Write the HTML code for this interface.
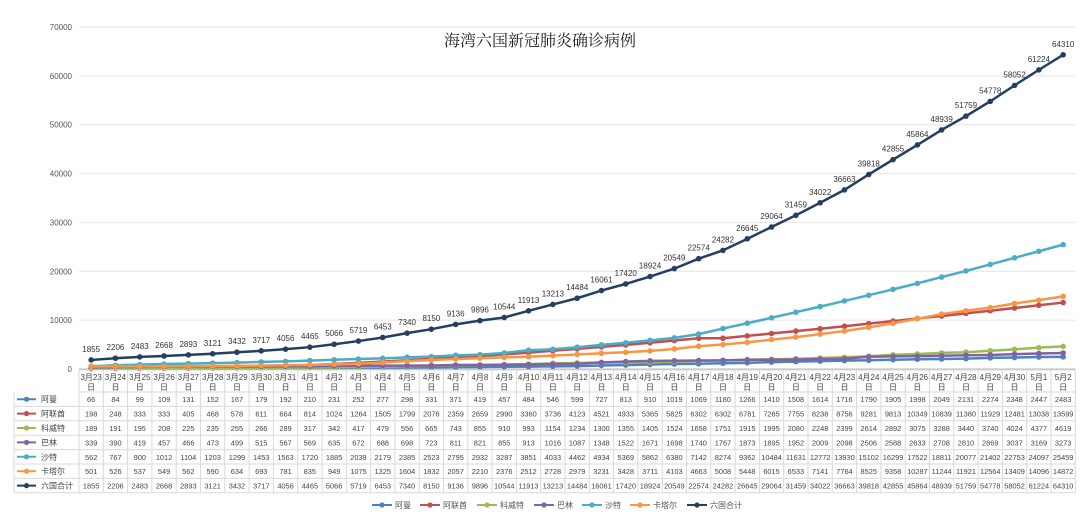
<!DOCTYPE html>
<html><head><meta charset="utf-8"><style>
body{margin:0;background:#fff;}
svg{display:block;font-family:"Liberation Sans","Noto Sans CJK SC",sans-serif;}
</style></head><body>
<svg id="c" width="1080" height="523" viewBox="0 0 1080 523"></svg>
<script>
const dates=["3月23日","3月24日","3月25日","3月26日","3月27日","3月28日","3月29日","3月30日","3月31日","4月1日","4月2日","4月3日","4月4日","4月5日","4月6日","4月7日","4月8日","4月9日","4月10日","4月11日","4月12日","4月13日","4月14日","4月15日","4月16日","4月17日","4月18日","4月19日","4月20日","4月21日","4月22日","4月23日","4月24日","4月25日","4月26日","4月27日","4月28日","4月29日","4月30日","5月1日","5月2日"];
const seriesNames=["阿曼","阿联酋","科威特","巴林","沙特","卡塔尔","六国合计"];
const oman=[66,84,99,109,131,152,167,179,192,210,231,252,277,298,331,371,419,457,484,546,599,727,813,910,1019,1069,1180,1266,1410,1508,1614,1716,1790,1905,1998,2049,2131,2274,2348,2447,2483];
const uae=[198,248,333,333,405,468,578,611,664,814,1024,1264,1505,1799,2076,2359,2659,2990,3360,3736,4123,4521,4933,5365,5825,6302,6302,6781,7265,7755,8238,8756,9281,9813,10349,10839,11380,11929,12481,13038,13599];
const kuwait=[189,191,195,208,225,235,255,266,289,317,342,417,479,556,665,743,855,910,993,1154,1234,1300,1355,1405,1524,1658,1751,1915,1995,2080,2248,2399,2614,2892,3075,3288,3440,3740,4024,4377,4619];
const bahrain=[339,390,419,457,466,473,499,515,567,569,635,672,688,698,723,811,821,855,913,1016,1087,1348,1522,1671,1698,1740,1767,1873,1895,1952,2009,2098,2506,2588,2633,2708,2810,2869,3037,3169,3273];
const saudi=[562,767,900,1012,1104,1203,1299,1453,1563,1720,1885,2039,2179,2385,2523,2795,2932,3287,3851,4033,4462,4934,5369,5862,6380,7142,8274,9362,10484,11631,12772,13930,15102,16299,17522,18811,20077,21402,22753,24097,25459];
const qatar=[501,526,537,549,562,590,634,693,781,835,949,1075,1325,1604,1832,2057,2210,2376,2512,2728,2979,3231,3428,3711,4103,4663,5008,5448,6015,6533,7141,7764,8525,9358,10287,11244,11921,12564,13409,14096,14872];
const total=[1855,2206,2483,2668,2893,3121,3432,3717,4056,4465,5066,5719,6453,7340,8150,9136,9896,10544,11913,13213,14484,16061,17420,18924,20549,22574,24282,26645,29064,31459,34022,36663,39818,42855,45864,48939,51759,54778,58052,61224,64310];
const yTicks=[0,10000,20000,30000,40000,50000,60000,70000];
const colors=["#4f81bd","#c0504d","#9bbb59","#8064a2","#4bacc6","#f79646","#243f60"];
const allSeries=[oman,uae,kuwait,bahrain,saudi,qatar,total];

const svg=document.getElementById('c');const NS="http://www.w3.org/2000/svg";
function mk(t,a,p){const e=document.createElementNS(NS,t);for(const k in a)e.setAttribute(k,a[k]);(p||svg).appendChild(e);return e;}
const x0=79,cw=24.3,y0=369,yMax=70000,yTop=27;
const X=i=>x0+cw*(i+0.5);
const Y=v=>y0-(v/yMax)*(y0-yTop);
let t=mk('text',{x:540,y:46,'text-anchor':'middle','font-size':16,fill:'#222','font-family':'"Noto Serif CJK SC","Noto Sans CJK SC",serif'});t.textContent="海湾六国新冠肺炎确诊病例";

yTicks.forEach(v=>{const l=mk('line',{x1:x0,x2:x0+cw*41,y1:Y(v),y2:Y(v),stroke:v?'#e4e4e4':'#bbb','stroke-width':1});

const tt=mk('text',{x:72,y:Y(v)+3,'text-anchor':'end','font-size':8,fill:'#555'});tt.textContent=v;
});
allSeries.forEach((s,si)=>{const g=mk('g',{});
mk('polyline',{points:s.map((v,i)=>X(i)+','+Y(v)).join(' '),fill:'none',stroke:colors[si],'stroke-width':2.5},g);
s.forEach((v,i)=>{const c=mk('circle',{cx:X(i),cy:Y(v),r:2.8,fill:colors[si]},g);});});
total.forEach((v,i)=>{const tt=mk('text',{x:X(i),y:Y(v)-8,'text-anchor':'middle','font-size':8,fill:'#333'});tt.textContent=v;
});
const tb=mk('g',{});
const hTop=370,hBot=392,rh=14.4,tEnd=x0+cw*41;
const rows=7,bottom=hBot+rh*rows;
for(let i=0;i<=41;i++)mk('line',{x1:x0+cw*i,x2:x0+cw*i,y1:hTop,y2:bottom,stroke:'#d9d9d9'},tb);
mk('line',{x1:x0,x2:tEnd,y1:hTop,y2:hTop,stroke:'#d9d9d9'},tb);
for(let r=0;r<=rows;r++)mk('line',{x1:r?14:x0,x2:tEnd,y1:hBot+rh*r,y2:hBot+rh*r,stroke:'#d9d9d9'},tb);
mk('line',{x1:14,x2:14,y1:hBot,y2:bottom,stroke:'#d9d9d9'},tb);
dates.forEach((d,i)=>{const a=mk('text',{x:X(i),y:380,'text-anchor':'middle','font-size':8,fill:'#444'},tb);a.textContent=d.slice(0,-1);
const b=mk('text',{x:X(i),y:390,'text-anchor':'middle','font-size':8,fill:'#444'},tb);b.textContent="日";});
allSeries.forEach((s,si)=>{const yy=hBot+rh*si+rh/2;
mk('line',{x1:17,x2:36,y1:yy,y2:yy,stroke:colors[si],'stroke-width':2},tb);mk('circle',{cx:26.5,cy:yy,r:2.6,fill:colors[si]},tb);
const n=mk('text',{x:41,y:yy+3,'font-size':8,fill:'#444'},tb);n.textContent=seriesNames[si];
s.forEach((v,i)=>{const c=mk('text',{x:X(i),y:yy+3,'text-anchor':'middle','font-size':7.4,fill:'#444'},tb);c.textContent=v;});});
const lg=mk('g',{});
let lx=372;seriesNames.forEach((n,si)=>{const w=n.length*9+30;
const e=mk('g',{},lg);
mk('line',{x1:lx,x2:lx+20,y1:505,y2:505,stroke:colors[si],'stroke-width':2},e);mk('circle',{cx:lx+10,cy:505,r:2.6,fill:colors[si]},e);
const tt=mk('text',{x:lx+23,y:508,'font-size':8,fill:'#555'},e);tt.textContent=n;lx+=w;});
</script>
</body></html>
